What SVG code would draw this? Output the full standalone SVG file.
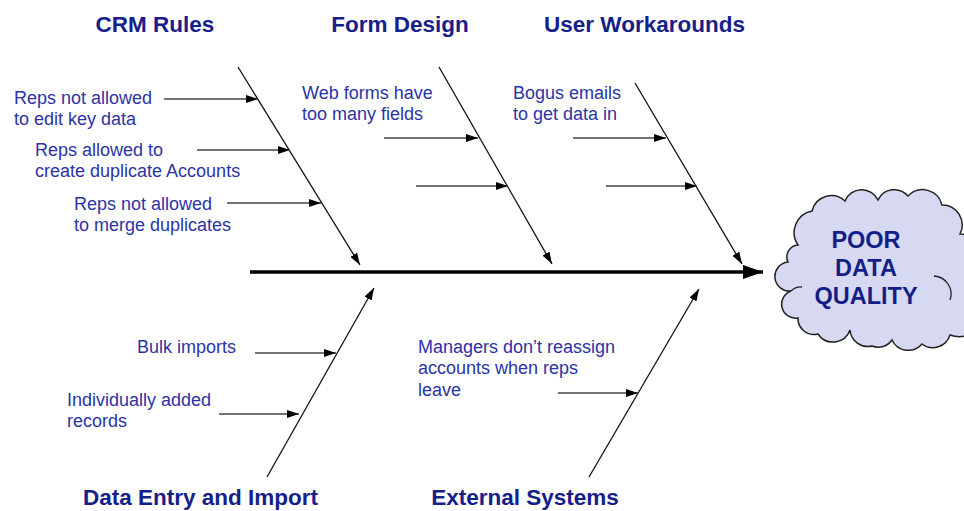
<svg xmlns="http://www.w3.org/2000/svg" width="964" height="511" viewBox="0 0 964 511">
  <style>
    .title { font-family: "Liberation Sans", Arial, Helvetica, sans-serif; font-size: 22.5px; font-weight: bold; fill: #15208a; text-anchor: middle; }
    .label { font-family: "Liberation Sans", Arial, Helvetica, sans-serif; font-size: 18px; fill: #2c33a6; }
    .effect { font-family: "Liberation Sans", Arial, Helvetica, sans-serif; font-size: 23.5px; font-weight: bold; fill: #141e86; text-anchor: middle; }
    .bone { stroke: #111; stroke-width: 1.3; fill: none; marker-end: url(#head); }
    .cause { stroke: #444; stroke-width: 1.6; fill: none; marker-end: url(#head); }
    .spine { stroke: #000; stroke-width: 3.6; fill: none; marker-end: url(#bighead); }
    .cloud { fill: #d7d9f3; stroke: #222; stroke-width: 1.5; }
  </style>
  <defs>
    <marker id="head" viewBox="0 0 12 8" refX="12" refY="4" markerWidth="12" markerHeight="8" markerUnits="userSpaceOnUse" orient="auto">
      <path d="M0,0 L12,4 L0,8 Z" fill="#000"/>
    </marker>
    <marker id="bighead" viewBox="0 0 20 14" refX="20" refY="7" markerWidth="20" markerHeight="14" markerUnits="userSpaceOnUse" orient="auto">
      <path d="M0,0 L20,7 L0,14 Z" fill="#000"/>
    </marker>
  </defs>
  <rect width="964" height="511" fill="#fff"/>

  <!-- effect: cloud -->
  <g id="effect">
    <path class="cloud" d="M798,245 A22,22 0 0 1 812,211 A20,20 0 0 1 845,201 A18,18 0 0 1 878,200 A18,18 0 0 1 908,196 A20,20 0 0 1 942,205 A20,20 0 0 1 960,234 A30,30 0 0 1 975,290 A26,26 0 0 1 950,335 A18,18 0 0 1 922,344 A18,18 0 0 1 892,340 A17,17 0 0 1 872,346 A18,18 0 0 1 850,330 A18,18 0 0 1 818,334 A16,16 0 0 1 798,318 A14,14 0 0 1 791,291 A14,14 0 0 1 788,262 A12,12 0 0 1 798,245 Z"/>
    <path d="M934,276 A18,18 0 0 1 950,300" fill="none" stroke="#222" stroke-width="1.3"/>
    <path d="M791,291 A14,14 0 0 1 802,287" fill="none" stroke="#222" stroke-width="1.3"/>
    <text class="effect" x="866" y="248">POOR</text>
    <text class="effect" x="866" y="276">DATA</text>
    <text class="effect" x="866" y="304">QUALITY</text>
  </g>

  <!-- category titles -->
  <g id="crm-rules"><text class="title" x="155" y="32">CRM Rules</text></g>
  <g id="form-design"><text class="title" x="400" y="32">Form Design</text></g>
  <g id="user-workarounds"><text class="title" x="644.5" y="32">User Workarounds</text></g>
  <g id="data-entry"><text class="title" x="200.5" y="505">Data Entry and Import</text></g>
  <g id="external-systems"><text class="title" x="525" y="505">External Systems</text></g>

  <!-- cause labels -->
  <g id="cause-labels">
    <text class="label" x="14" y="104">Reps not allowed</text>
    <text class="label" x="14" y="125">to edit key data</text>
    <text class="label" x="35" y="156">Reps allowed to</text>
    <text class="label" x="35" y="177">create duplicate Accounts</text>
    <text class="label" x="74" y="210">Reps not allowed</text>
    <text class="label" x="74" y="231">to merge duplicates</text>
    <text class="label" x="302" y="99">Web forms have</text>
    <text class="label" x="302" y="120">too many fields</text>
    <text class="label" x="513" y="99">Bogus emails</text>
    <text class="label" x="513" y="120">to get data in</text>
    <text class="label" x="137" y="353">Bulk imports</text>
    <text class="label" x="67" y="406">Individually added</text>
    <text class="label" x="67" y="427">records</text>
    <text class="label" x="418" y="353">Managers don’t reassign</text>
    <text class="label" x="418" y="374">accounts when reps</text>
    <text class="label" x="418" y="396">leave</text>
  </g>

  <!-- connectors -->
  <g id="connectors">
    <line class="spine" x1="250" y1="272" x2="763" y2="272"/>
    <!-- upper bones -->
    <line class="bone" x1="238" y1="67" x2="360" y2="265"/>
    <line class="bone" x1="439" y1="67" x2="552" y2="264"/>
    <line class="bone" x1="635" y1="83" x2="742" y2="264"/>
    <!-- lower bones -->
    <line class="bone" x1="267" y1="477" x2="374" y2="288"/>
    <line class="bone" x1="589" y1="477" x2="699" y2="289"/>
    <!-- CRM Rules causes -->
    <line class="cause" x1="164" y1="99" x2="258" y2="99"/>
    <line class="cause" x1="197" y1="150" x2="290" y2="150"/>
    <line class="cause" x1="227" y1="203" x2="321" y2="203"/>
    <!-- Form Design causes -->
    <line class="cause" x1="384" y1="138" x2="478" y2="138"/>
    <line class="cause" x1="416" y1="186" x2="508" y2="186"/>
    <!-- User Workarounds causes -->
    <line class="cause" x1="573" y1="138" x2="666" y2="138"/>
    <line class="cause" x1="606" y1="186" x2="697" y2="186"/>
    <!-- Data Entry and Import causes -->
    <line class="cause" x1="255" y1="353" x2="336" y2="353"/>
    <line class="cause" x1="219" y1="414" x2="299" y2="414"/>
    <!-- External Systems cause -->
    <line class="cause" x1="558" y1="393" x2="638" y2="393"/>
  </g>
</svg>
